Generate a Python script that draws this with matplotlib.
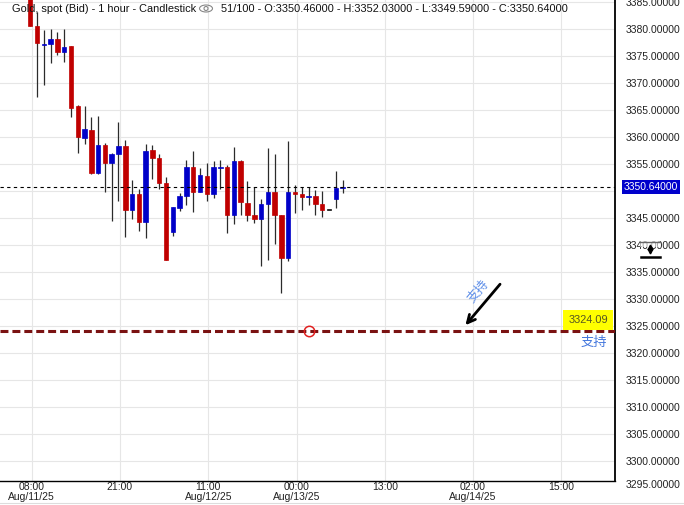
import matplotlib
matplotlib.use("Agg")
import matplotlib.pyplot as plt
import matplotlib.transforms as mtransforms
from matplotlib.patches import Ellipse, Rectangle
from matplotlib.lines import Line2D
import numpy as np

plt.rcParams["font.family"] = ["Liberation Sans", "Noto Sans CJK SC", "DejaVu Sans"]

# hourly XAUUSD bars
opens = [3387.0, 3380.56, 3377.1, 3377.2, 3378.15, 3375.8, 3376.9, 3365.7, 3359.85, 3361.3,
         3353.4, 3358.5, 3355.2, 3356.9, 3358.3, 3346.5, 3349.4, 3344.3, 3357.6, 3356.1,
         3351.5, 3342.4, 3346.9, 3349.1, 3354.4, 3349.85, 3352.75, 3349.5, 3354.3, 3354.4,
         3345.6, 3355.55, 3347.75, 3345.5, 3344.85, 3347.6, 3349.8, 3345.5, 3337.6, 3349.8,
         3349.4, 3348.95, 3349.05, 3347.55, 3346.45, 3348.55, 3350.46]
highs = [3387.5, 3383.2, 3379.8, 3380.0, 3379.4, 3380.0, 3376.9, 3366.0, 3365.7, 3363.75,
         3363.9, 3358.9, 3357.0, 3362.8, 3359.4, 3352.0, 3350.35, 3358.75, 3358.5, 3356.8,
         3352.5, 3347.0, 3349.55, 3355.7, 3357.4, 3354.2, 3355.2, 3355.5, 3355.7, 3354.8,
         3358.1, 3355.7, 3351.8, 3350.65, 3348.5, 3357.95, 3356.8, 3345.5, 3359.25, 3351.1,
         3350.65, 3350.65, 3350.2, 3350.0, 3346.45, 3353.7, 3352.03]
lows = [3380.6, 3367.45, 3369.6, 3373.7, 3375.2, 3373.9, 3363.7, 3357.0, 3358.75, 3353.1,
        3353.1, 3349.85, 3344.5, 3348.2, 3341.5, 3344.85, 3342.6, 3341.3, 3352.25, 3350.4,
        3337.25, 3341.7, 3346.3, 3347.4, 3346.1, 3349.7, 3348.2, 3348.75, 3350.4, 3342.25,
        3343.9, 3345.6, 3344.5, 3344.1, 3336.1, 3337.1, 3340.2, 3331.1, 3337.05, 3345.95,
        3346.5, 3347.45, 3345.6, 3345.2, 3346.45, 3346.9, 3349.59]
closes = [3380.6, 3377.35, 3377.25, 3378.15, 3375.8, 3376.7, 3365.4, 3359.9, 3361.5, 3353.4,
          3358.5, 3355.2, 3356.8, 3358.3, 3346.5, 3349.4, 3344.3, 3357.4, 3356.15, 3351.5,
          3337.25, 3347.0, 3349.05, 3354.4, 3349.85, 3352.95, 3349.5, 3354.4, 3354.4, 3345.6,
          3355.55, 3348.0, 3345.6, 3344.85, 3347.55, 3349.8, 3345.6, 3337.6, 3349.8, 3349.5,
          3348.9, 3349.05, 3347.6, 3346.5, 3346.45, 3350.5, 3350.64]

tick_bars = [0, 13, 26, 39, 52, 65, 78]
tick_labels = ["08:00\nAug/11/25", "21:00", "11:00\nAug/12/25", "00:00\nAug/13/25",
               "13:00", "02:00\nAug/14/25", "15:00"]
price_levels = np.arange(3300, 3386, 5)

support_level = 3324.09
support_label = "支持"
support_marker_bar = 41
arrow_tip = (64.1, 3325.1)
arrow_tail = (69.2, 3332.7)
arrow_text_pos = (66.0, 3331.3)

o = np.array(opens)
h = np.array(highs)
l = np.array(lows)
c = np.array(closes)
x = np.arange(len(o))

fig = plt.figure(figsize=(6.84, 5.05), dpi=100)
ax = fig.add_axes([0, 24 / 505, 615 / 684, 481 / 505])


def fpx(px, py):
    # pixel position (from top-left) -> figure fraction
    return px / 684, 1 - py / 505


# grid
for lev in price_levels:
    ax.axhline(lev, color="#e6e6e6", lw=0.8, zorder=0)
for t in tick_bars:
    ax.axvline(t + 0.22, color="#e6e6e6", lw=0.8, zorder=0)

# candles
cols = np.where(c > o, "#0000c8", np.where(c < o, "#c00000", "#111111"))
ax.vlines(x, l, h, color="#2b2b2b", lw=0.9, zorder=2)
body_h = np.maximum(np.abs(c - o), 0.12)
ax.bar(x, body_h, bottom=np.minimum(o, c), width=0.66, color=cols, edgecolor=cols,
       linewidth=0.5, zorder=3)

# current price line + label
last = closes[-1]
ax.axhline(last, color="black", lw=0.8, linestyle=(0, (3, 3)), zorder=4)
blend = mtransforms.blended_transform_factory(ax.transAxes, ax.transData)
ax.text(1.0 + 9 / 615, last, f"{last:.5f}", transform=blend, ha="left", va="center",
        fontsize=7.4, color="white", clip_on=False, zorder=6,
        bbox=dict(boxstyle="square,pad=0.2", fc="#0000cc", ec="none"))

# support line
ax.axhline(support_level, color="#7a1212", lw=2.2, linestyle=(0, (2.6, 1.3)), zorder=4)
ax.plot([support_marker_bar], [support_level], "o", ms=7.5, mfc="none", mec="#e02020",
        mew=1.1, zorder=5)
ax.text(608 / 615, support_level + 2.0, f"{support_level:.2f}", transform=blend,
        ha="right", va="center", fontsize=7.9, color="#555522", zorder=6,
        bbox=dict(boxstyle="square,pad=0.45", fc="#ffff00", ec="none"))
ax.text(607 / 615, support_level - 2.2, support_label, transform=blend, ha="right",
        va="center", fontsize=9.5, color="#4477dd", family=["Noto Sans CJK SC"], zorder=6)
ax.annotate("", xy=arrow_tip, xytext=arrow_tail,
            arrowprops=dict(arrowstyle="->", lw=2.0, color="black", mutation_scale=14,
                            shrinkA=0, shrinkB=0), zorder=6)
ax.text(arrow_text_pos[0], arrow_text_pos[1], support_label, rotation=50, ha="center",
        va="center", fontsize=9.2, color="#5f8fe8", family=["Noto Sans CJK SC"], zorder=6)

# axes
ax.set_xlim(-4.45, 86.13)
ax.set_ylim(3296.23, 3385.37)
ax.set_xticks([t + 0.22 for t in tick_bars])
ax.set_xticklabels(tick_labels, fontsize=7.5, color="#222222", linespacing=1.0)
ax.set_yticks(price_levels)
# the 3350 label is hidden behind the live price tag
ax.set_yticklabels(["" if v == 3350 else f"{v:.5f}" for v in price_levels],
                   fontsize=7.5, color="#222222")
ax.yaxis.tick_right()
ax.tick_params(axis="y", length=0, pad=7.5)
ax.tick_params(axis="x", length=0, pad=1.0)
for side in ["left", "top"]:
    ax.spines[side].set_visible(False)
ax.spines["right"].set_linewidth(1.3)
ax.spines["bottom"].set_linewidth(1.0)
ax.set_facecolor("white")

# 3295 label sits below the axis
ax.text(1.0 + 11 / 615, 3295.4, "3295.00000", transform=blend, ha="left", va="center",
        fontsize=7.5, color="#222222", clip_on=False)

# header
fig.text(*fpx(12, 8.5), "Gold, spot (Bid) - 1 hour - Candlestick", fontsize=7.9,
         color="#111111", va="center", ha="left", zorder=10)
fig.text(*fpx(221, 8.5), "51/100 - O:3350.46000 - H:3352.03000 - L:3349.59000 - C:3350.64000",
         fontsize=7.9, color="#111111", va="center", ha="left", zorder=10)
ex, ey = fpx(206, 8.5)
fig.add_artist(Ellipse((ex, ey), 13 / 684, 7 / 505, transform=fig.transFigure, fc="none",
                       ec="#888888", lw=0.8))
fig.add_artist(Ellipse((ex, ey), 4 / 684, 4 / 505, transform=fig.transFigure, fc="none",
                       ec="#888888", lw=0.8))

# drag handle over the 3340 label
rx, ry = fpx(640, 247)
fig.add_artist(Rectangle((rx, ry), 20 / 684, 10 / 505, transform=fig.transFigure,
                         fc="white", ec="none", alpha=0.6, zorder=5))
for (x0, y0, x1, y1, lw, col) in [(640, 241.5, 660, 241.5, 1.0, "#666666"),
                                  (641, 257, 660, 257, 1.8, "black")]:
    a = fpx(x0, y0)
    b = fpx(x1, y1)
    fig.add_artist(Line2D([a[0], b[0]], [a[1], b[1]], transform=fig.transFigure,
                          color=col, lw=lw, zorder=6))
for py, mk in [(247, "^"), (251, "v")]:
    px_, py_ = fpx(650, py)
    fig.add_artist(Line2D([px_], [py_], marker=mk, ms=3.5, color="black",
                          transform=fig.transFigure, zorder=6))

bl = fpx(0, 502.5)
fig.add_artist(Line2D([0, 1], [bl[1], bl[1]], transform=fig.transFigure, color="#dddddd",
                      lw=0.8))

fig.savefig("out.png", dpi=100, facecolor="white")
